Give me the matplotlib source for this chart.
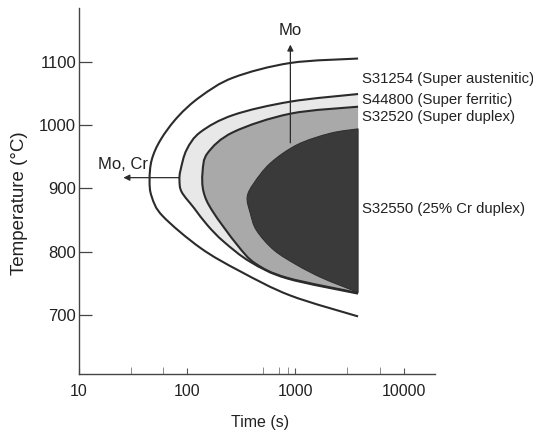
import matplotlib
matplotlib.use("Agg")
import numpy as np
import matplotlib.pyplot as plt
from matplotlib.path import Path
from matplotlib.patches import PathPatch
from matplotlib.ticker import FixedLocator, NullFormatter

plt.rcParams['font.family'] = ['Liberation Sans', 'DejaVu Sans']

# --- data (time in s, temperature in °C), ordered upper branch -> nose -> lower branch
t_s31254 = [3800, 900, 268, 133, 82, 57, 47.1, 45, 47.1, 59.4, 133, 311, 900, 3800]
T_s31254 = [1105, 1098, 1075, 1045, 1013, 977, 945, 913, 887, 856.5, 806, 769, 731, 698]

t_s44800 = [3800, 900, 268, 133, 99, 87, 85, 89, 116, 154, 218, 385, 838, 3800]
T_s44800 = [1049, 1037, 1016, 989, 961, 929, 913, 894.5, 869, 842, 816, 784, 758, 734]

t_s32520 = [3800, 900, 268, 155, 139, 142, 172, 290, 428, 838, 3800]
T_s32520 = [1029, 1018, 989, 956, 926, 894.5, 864, 811, 781.5, 759, 735]

t_s32550 = [3800, 2100, 1040, 589, 413, 359, 385, 437, 631, 1038, 1700, 2600, 3800]
T_s32550 = [994, 987, 969, 940, 908, 886, 860, 834, 803, 779, 760, 747, 736]

labels = ["S31254 (Super austenitic)", "S44800 (Super ferritic)",
          "S32520 (Super duplex)", "S32550 (25% Cr duplex)"]
label_T = [1073, 1039, 1013, 868]
label_t = 4150

y_ticks = [700, 800, 900, 1000, 1100]
x_ticks = [10, 100, 1000, 10000]
x_tick_labels = ["10", "100", "1000", "10000"]
x_minor = [30, 60, 500, 700, 850, 3000, 6000]


def smooth_path(t, T, close=False):
    """Cubic Bezier path passing through the read points (drawn on log-time axis)."""
    P = np.column_stack([np.log10(t), np.asarray(T, float)])
    ext = np.vstack([P[0], P, P[-1]])
    verts = [P[0]]
    codes = [Path.MOVETO]
    for i in range(1, len(ext) - 2):
        p0, p1, p2, p3 = ext[i - 1], ext[i], ext[i + 1], ext[i + 2]
        verts += [p1 + (p2 - p0) / 6.0, p2 - (p3 - p1) / 6.0, p2]
        codes += [Path.CURVE4] * 3
    if close:
        verts.append(P[0])
        codes.append(Path.CLOSEPOLY)
    verts = np.array(verts)
    verts[:, 0] = 10 ** verts[:, 0]
    return Path(verts, codes)


fig = plt.figure(figsize=(5.33, 4.36), dpi=100)
ax = fig.add_axes([0.148, 0.142, 0.668, 0.840])
ax.set_xscale('log')
ax.set_xlim(10, 19500)
ax.set_ylim(607, 1185)

line_c = '#2b2b2b'
# fills
ax.add_patch(PathPatch(smooth_path(t_s44800, T_s44800, True), fc='#e8e8e8', lw=0, zorder=1))
ax.add_patch(PathPatch(smooth_path(t_s32520, T_s32520, True), fc='#a9a9a9', lw=0, zorder=2))
ax.add_patch(PathPatch(smooth_path(t_s32550, T_s32550, True), fc='#3a3a3a', ec='#303030',
                       lw=0.8, zorder=3))
# outlines
for t, T in [(t_s31254, T_s31254), (t_s44800, T_s44800), (t_s32520, T_s32520)]:
    ax.add_patch(PathPatch(smooth_path(t, T), fc='none', ec=line_c, lw=1.5, zorder=4))

# arrows
ax.annotate("", xy=(25.8, 917), xytext=(85, 917),
            arrowprops=dict(arrowstyle='-|>', color=line_c, lw=0.9,
                            mutation_scale=9, shrinkA=0, shrinkB=0), zorder=5)
ax.text(25.5, 938, "Mo, Cr", ha='center', va='center', fontsize=12, color='#222222')
ax.annotate("", xy=(900, 1127), xytext=(900, 972),
            arrowprops=dict(arrowstyle='-|>', color=line_c, lw=0.9,
                            mutation_scale=9, shrinkA=0, shrinkB=0), zorder=5)
ax.text(900, 1150, "Mo", ha='center', va='center', fontsize=12, color='#222222')

for lab, T in zip(labels, label_T):
    ax.text(label_t, T, lab, ha='left', va='center', fontsize=10.7, color='#222222')

# axes styling
for s in ['top', 'right']:
    ax.spines[s].set_visible(False)
for s in ['left', 'bottom']:
    ax.spines[s].set_color('#444444')
    ax.spines[s].set_linewidth(1.0)

ax.set_yticks(y_ticks)
ax.set_yticklabels([str(v) for v in y_ticks])
ax.xaxis.set_major_locator(FixedLocator(x_ticks))
ax.set_xticklabels(x_tick_labels)
ax.xaxis.set_minor_locator(FixedLocator(x_minor))
ax.xaxis.set_minor_formatter(NullFormatter())
ax.tick_params(axis='y', direction='in', length=9, width=0.9, color='#444444',
               labelsize=12, labelcolor='#222222', pad=2)
ax.tick_params(axis='x', which='major', direction='in', length=4, width=0.8,
               color='#555555', labelsize=11.5, labelcolor='#222222', pad=7)
ax.tick_params(axis='x', which='minor', direction='in', length=5, width=0.6,
               color='#777777')

ax.set_xlabel("Time (s)", fontsize=11.5, color='#222222')
ax.set_ylabel("Temperature (°C)", fontsize=13.5, color='#222222')
ax.xaxis.set_label_coords(0.508, -0.112)
ax.yaxis.set_label_coords(-0.143, 0.467)

fig.savefig("out.png", dpi=100)
